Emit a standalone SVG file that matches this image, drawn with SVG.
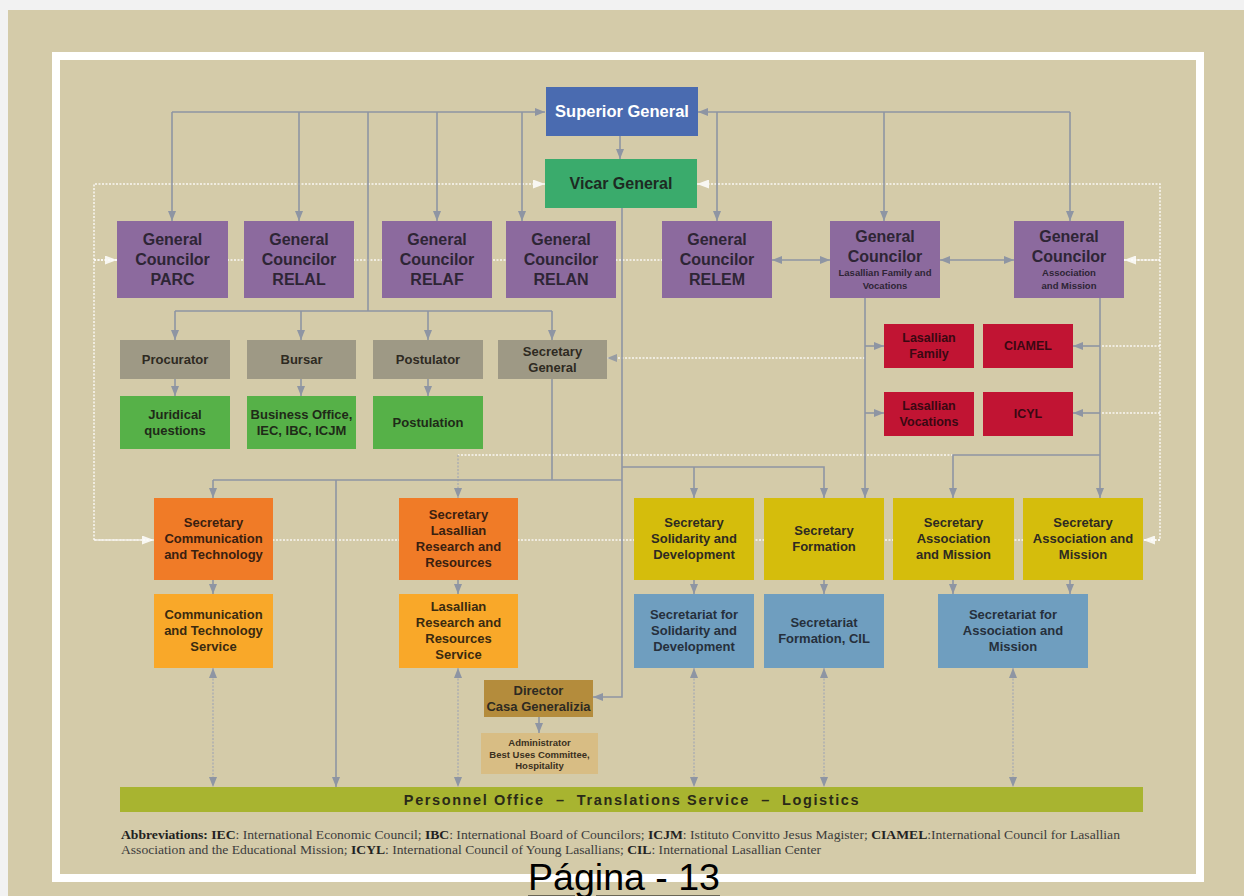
<svg xmlns="http://www.w3.org/2000/svg" width="1244" height="896" viewBox="0 0 1244 896">
<defs>
<marker id="a" markerUnits="userSpaceOnUse" markerWidth="10" markerHeight="8" refX="10" refY="4" orient="auto-start-reverse"><path d="M0,0 L10,4 L0,8 z" fill="#8e95a3"/></marker>
<marker id="w" markerUnits="userSpaceOnUse" markerWidth="12" markerHeight="9" refX="12" refY="4.5" orient="auto-start-reverse"><path d="M0,0 L12,4.5 L0,9 z" fill="#ffffff"/></marker>
<style>
.c{fill:none;stroke:#8e95a3;stroke-width:1.6}
.d{fill:none;stroke:#a4a9b3;stroke-width:1.2;stroke-dasharray:2 1.5}
.wd{fill:none;stroke:#ffffff;stroke-width:1.5;stroke-dasharray:2 1.5;opacity:0.85}
text{font-family:"Liberation Sans",Arial,sans-serif;font-weight:bold;text-anchor:middle;dominant-baseline:central}
.t16{font-size:16px;fill:#2e2535}
.t10{font-size:9.5px;fill:#2e2535}
.t13{font-size:13px;fill:#2e2a22}
.tr{font-size:12.5px;fill:#3a0812}
.ab{font-family:"Liberation Serif","Times New Roman",serif;font-weight:normal;text-anchor:start;font-size:13.4px;fill:#3c3c3c}
.ab tspan.b{font-weight:bold;fill:#222222}
.purple{fill:#8c6a9e}
.gray{fill:#9e9985}
.green{fill:#56b148}
.red{fill:#c11433}
.orange{fill:#f07b27}
.lorange{fill:#f9a829}
.yellow{fill:#d5bd0c}
.blue{fill:#6f9ebf}
</style>
</defs>
<rect width="1244" height="896" fill="#f2f2f2"/>
<rect x="8" y="10" width="1236" height="886" fill="#d4cba9"/>
<rect x="56" y="56" width="1144" height="822" fill="#d4cba9" stroke="#ffffff" stroke-width="8"/>

<g id="connectors">
<path class="wd" d="M94,260 H662"/>
<path class="wd" d="M1124,260 H1160"/>
<path class="wd" d="M94,540 H1160"/>
<path class="wd" d="M545,184 H94 V540 H154" marker-start="url(#w)" marker-end="url(#w)"/>
<path class="wd" d="M94,260 H117" marker-end="url(#w)"/>
<path class="wd" d="M697,184 H1160 V540 H1143" marker-start="url(#w)" marker-end="url(#w)"/>
<path class="wd" d="M1160,260 H1124" marker-end="url(#w)"/>
<path class="wd" d="M1160,346 H1100"/>
<path class="wd" d="M1160,413 H1100"/>
<path class="wd" d="M865,358 H607" marker-end="url(#a)"/>
<path class="wd" d="M953,455 H458"/>
<path class="d" d="M458,455 V498" marker-end="url(#a)"/>
<path class="c" d="M172,112 H545" marker-end="url(#a)"/>
<path class="c" d="M172,112 V221" marker-end="url(#a)"/>
<path class="c" d="M299,112 V221" marker-end="url(#a)"/>
<path class="c" d="M437,112 V221" marker-end="url(#a)"/>
<path class="c" d="M522,112 V221" marker-end="url(#a)"/>
<path class="c" d="M368,112 V311"/>
<path class="c" d="M1070,112 H698" marker-end="url(#a)"/>
<path class="c" d="M717,112 V221" marker-end="url(#a)"/>
<path class="c" d="M884,112 V221" marker-end="url(#a)"/>
<path class="c" d="M1070,112 V221" marker-end="url(#a)"/>
<path class="c" d="M620,136 V159" marker-end="url(#a)"/>
<path class="c" d="M772,260 H830" marker-start="url(#a)" marker-end="url(#a)"/>
<path class="c" d="M940,260 H1014" marker-start="url(#a)" marker-end="url(#a)"/>
<path class="c" d="M175,311 H552"/>
<path class="c" d="M175,311 V340" marker-end="url(#a)"/>
<path class="c" d="M301,311 V340" marker-end="url(#a)"/>
<path class="c" d="M428,311 V340" marker-end="url(#a)"/>
<path class="c" d="M552,311 V340" marker-end="url(#a)"/>
<path class="c" d="M175,379 V396" marker-end="url(#a)"/>
<path class="c" d="M301,379 V396" marker-end="url(#a)"/>
<path class="c" d="M428,379 V396" marker-end="url(#a)"/>
<path class="c" d="M622,208 V697 H593" marker-end="url(#a)"/>
<path class="c" d="M552,379 V480"/>
<path class="c" d="M213,480 H622"/>
<path class="c" d="M213,480 V498" marker-end="url(#a)"/>
<path class="c" d="M336,480 V787" marker-end="url(#a)"/>
<path class="c" d="M622,467 H824 V498" marker-end="url(#a)"/>
<path class="c" d="M694,467 V498" marker-end="url(#a)"/>
<path class="c" d="M865,298 V498" marker-end="url(#a)"/>
<path class="c" d="M865,346 H884" marker-end="url(#a)"/>
<path class="c" d="M865,413 H884" marker-end="url(#a)"/>
<path class="c" d="M1100,298 V498" marker-end="url(#a)"/>
<path class="c" d="M1100,346 H1073" marker-end="url(#a)"/>
<path class="c" d="M1100,413 H1073" marker-end="url(#a)"/>
<path class="c" d="M1100,455 H953 V498" marker-end="url(#a)"/>
<path class="c" d="M213,580 V594" marker-end="url(#a)"/>
<path class="c" d="M458,580 V594" marker-end="url(#a)"/>
<path class="c" d="M694,580 V594" marker-end="url(#a)"/>
<path class="c" d="M824,580 V594" marker-end="url(#a)"/>
<path class="c" d="M953,580 V594" marker-end="url(#a)"/>
<path class="c" d="M1070,580 V594" marker-end="url(#a)"/>
<path class="c" d="M539,717 V733" marker-end="url(#a)"/>
<path class="d" d="M213,668 V787" marker-start="url(#a)" marker-end="url(#a)"/>
<path class="d" d="M458,668 V787" marker-start="url(#a)" marker-end="url(#a)"/>
<path class="d" d="M694,668 V787" marker-start="url(#a)" marker-end="url(#a)"/>
<path class="d" d="M824,668 V787" marker-start="url(#a)" marker-end="url(#a)"/>
<path class="d" d="M1013,668 V787" marker-start="url(#a)" marker-end="url(#a)"/>
</g>

<g id="superior-general"><rect x="546" y="87" width="152" height="49" fill="#4a6bb0"/><text x="622" y="111" style="font-size:16.5px;fill:#ffffff">Superior General</text></g>
<g id="vicar-general"><rect x="545" y="159" width="152" height="49" fill="#3aab6c"/><text x="621" y="183" style="font-size:16px;fill:#1d2a22">Vicar General</text></g>

<g id="gc-parc"><rect class="purple" x="117" y="221" width="111" height="77"/><text class="t16" x="172.5" y="239">General</text><text class="t16" x="172.5" y="259">Councilor</text><text class="t16" x="172.5" y="279">PARC</text></g>
<g id="gc-relal"><rect class="purple" x="244" y="221" width="110" height="77"/><text class="t16" x="299" y="239">General</text><text class="t16" x="299" y="259">Councilor</text><text class="t16" x="299" y="279">RELAL</text></g>
<g id="gc-relaf"><rect class="purple" x="382" y="221" width="110" height="77"/><text class="t16" x="437" y="239">General</text><text class="t16" x="437" y="259">Councilor</text><text class="t16" x="437" y="279">RELAF</text></g>
<g id="gc-relan"><rect class="purple" x="506" y="221" width="110" height="77"/><text class="t16" x="561" y="239">General</text><text class="t16" x="561" y="259">Councilor</text><text class="t16" x="561" y="279">RELAN</text></g>
<g id="gc-relem"><rect class="purple" x="662" y="221" width="110" height="77"/><text class="t16" x="717" y="239">General</text><text class="t16" x="717" y="259">Councilor</text><text class="t16" x="717" y="279">RELEM</text></g>
<g id="gc-lfv"><rect class="purple" x="830" y="221" width="110" height="77"/><text class="t16" x="885" y="236">General</text><text class="t16" x="885" y="256">Councilor</text><text class="t10" x="885" y="272">Lasallian Family and</text><text class="t10" x="885" y="285">Vocations</text></g>
<g id="gc-am"><rect class="purple" x="1014" y="221" width="110" height="77"/><text class="t16" x="1069" y="236">General</text><text class="t16" x="1069" y="256">Councilor</text><text class="t10" x="1069" y="272">Association</text><text class="t10" x="1069" y="285">and Mission</text></g>

<g id="procurator"><rect class="gray" x="120" y="340" width="110" height="39"/><text class="t13" x="175" y="359">Procurator</text></g>
<g id="bursar"><rect class="gray" x="247" y="340" width="109" height="39"/><text class="t13" x="301.5" y="359">Bursar</text></g>
<g id="postulator"><rect class="gray" x="373" y="340" width="110" height="39"/><text class="t13" x="428" y="359">Postulator</text></g>
<g id="secretary-general"><rect class="gray" x="498" y="340" width="109" height="39"/><text class="t13" x="552.5" y="351">Secretary</text><text class="t13" x="552.5" y="367">General</text></g>

<g id="juridical"><rect class="green" x="120" y="396" width="110" height="53"/><text class="t13" x="175" y="414" style="fill:#1f2a18">Juridical</text><text class="t13" x="175" y="430" style="fill:#1f2a18">questions</text></g>
<g id="business-office"><rect class="green" x="247" y="396" width="109" height="53"/><text class="t13" x="301.5" y="414" style="fill:#1f2a18">Business Office,</text><text class="t13" x="301.5" y="430" style="fill:#1f2a18">IEC, IBC, ICJM</text></g>
<g id="postulation"><rect class="green" x="373" y="396" width="110" height="53"/><text class="t13" x="428" y="422" style="fill:#1f2a18">Postulation</text></g>

<g id="lasallian-family"><rect class="red" x="884" y="324" width="90" height="44"/><text class="tr" x="929" y="338">Lasallian</text><text class="tr" x="929" y="354">Family</text></g>
<g id="ciamel"><rect class="red" x="983" y="324" width="90" height="44"/><text class="tr" x="1028" y="346">CIAMEL</text></g>
<g id="lasallian-vocations"><rect class="red" x="884" y="392" width="90" height="44"/><text class="tr" x="929" y="406">Lasallian</text><text class="tr" x="929" y="422">Vocations</text></g>
<g id="icyl"><rect class="red" x="983" y="392" width="90" height="44"/><text class="tr" x="1028" y="414">ICYL</text></g>

<g id="sec-comm"><rect class="orange" x="154" y="498" width="119" height="82"/><text class="t13" x="213.5" y="522" style="fill:#3a2010">Secretary</text><text class="t13" x="213.5" y="538" style="fill:#3a2010">Communication</text><text class="t13" x="213.5" y="554" style="fill:#3a2010">and Technology</text></g>
<g id="sec-research"><rect class="orange" x="399" y="498" width="119" height="82"/><text class="t13" x="458.5" y="514" style="fill:#3a2010">Secretary</text><text class="t13" x="458.5" y="530" style="fill:#3a2010">Lasallian</text><text class="t13" x="458.5" y="546" style="fill:#3a2010">Research and</text><text class="t13" x="458.5" y="562" style="fill:#3a2010">Resources</text></g>
<g id="sec-solidarity"><rect class="yellow" x="634" y="498" width="120" height="82"/><text class="t13" x="694" y="522">Secretary</text><text class="t13" x="694" y="538">Solidarity and</text><text class="t13" x="694" y="554">Development</text></g>
<g id="sec-formation"><rect class="yellow" x="764" y="498" width="120" height="82"/><text class="t13" x="824" y="530">Secretary</text><text class="t13" x="824" y="546">Formation</text></g>
<g id="sec-am-1"><rect class="yellow" x="893" y="498" width="121" height="82"/><text class="t13" x="953.5" y="522">Secretary</text><text class="t13" x="953.5" y="538">Association</text><text class="t13" x="953.5" y="554">and Mission</text></g>
<g id="sec-am-2"><rect class="yellow" x="1023" y="498" width="120" height="82"/><text class="t13" x="1083" y="522">Secretary</text><text class="t13" x="1083" y="538">Association and</text><text class="t13" x="1083" y="554">Mission</text></g>

<g id="comm-service"><rect class="lorange" x="154" y="594" width="119" height="74"/><text class="t13" x="213.5" y="614" style="fill:#3a2a10">Communication</text><text class="t13" x="213.5" y="630" style="fill:#3a2a10">and Technology</text><text class="t13" x="213.5" y="646" style="fill:#3a2a10">Service</text></g>
<g id="research-service"><rect class="lorange" x="399" y="594" width="119" height="74"/><text class="t13" x="458.5" y="606" style="fill:#3a2a10">Lasallian</text><text class="t13" x="458.5" y="622" style="fill:#3a2a10">Research and</text><text class="t13" x="458.5" y="638" style="fill:#3a2a10">Resources</text><text class="t13" x="458.5" y="654" style="fill:#3a2a10">Service</text></g>
<g id="secretariat-solidarity"><rect class="blue" x="634" y="594" width="120" height="74"/><text class="t13" x="694" y="614" style="fill:#26303c">Secretariat for</text><text class="t13" x="694" y="630" style="fill:#26303c">Solidarity and</text><text class="t13" x="694" y="646" style="fill:#26303c">Development</text></g>
<g id="secretariat-formation"><rect class="blue" x="764" y="594" width="120" height="74"/><text class="t13" x="824" y="622" style="fill:#26303c">Secretariat</text><text class="t13" x="824" y="638" style="fill:#26303c">Formation, CIL</text></g>
<g id="secretariat-am"><rect class="blue" x="938" y="594" width="150" height="74"/><text class="t13" x="1013" y="614" style="fill:#26303c">Secretariat for</text><text class="t13" x="1013" y="630" style="fill:#26303c">Association and</text><text class="t13" x="1013" y="646" style="fill:#26303c">Mission</text></g>

<g id="director"><rect x="484" y="680" width="109" height="37" fill="#b48c3c"/><text class="t13" x="538.5" y="690">Director</text><text class="t13" x="538.5" y="706">Casa Generalizia</text></g>
<g id="administrator"><rect x="481" y="733" width="117" height="41" fill="#d8bd84"/><text x="539.5" y="742" style="font-size:9.5px;fill:#3a3020">Administrator</text><text x="539.5" y="754" style="font-size:9.5px;fill:#3a3020">Best Uses Committee,</text><text x="539.5" y="765" style="font-size:9.5px;fill:#3a3020">Hospitality</text></g>

<g id="personnel-office"><rect x="120" y="787" width="1023" height="25" fill="#a8b430"/><text x="632" y="799.5" style="font-size:14.5px;fill:#2a2a18;letter-spacing:1.6px" xml:space="preserve">Personnel Office  –  Translations Service  –  Logistics</text></g>

<g id="abbreviations">
<text class="ab" x="121" y="834" textLength="999" lengthAdjust="spacingAndGlyphs"><tspan class="b">Abbreviations: IEC</tspan>: International Economic Council; <tspan class="b">IBC</tspan>: International Board of Councilors; <tspan class="b">ICJM</tspan>: Istituto Convitto Jesus Magister; <tspan class="b">CIAMEL</tspan>:International Council for Lasallian</text>
<text class="ab" x="121" y="849" textLength="700" lengthAdjust="spacingAndGlyphs">Association and the Educational Mission; <tspan class="b">ICYL</tspan>: International Council of Young Lasallians; <tspan class="b">CIL</tspan>: International Lasallian Center</text>
</g>

<text x="528" y="877" style="font-family:'Liberation Sans',Arial,sans-serif;font-weight:normal;text-anchor:start;font-size:36px;fill:#000000;text-decoration:underline" textLength="192" lengthAdjust="spacingAndGlyphs">Página - 13</text>
</svg>
